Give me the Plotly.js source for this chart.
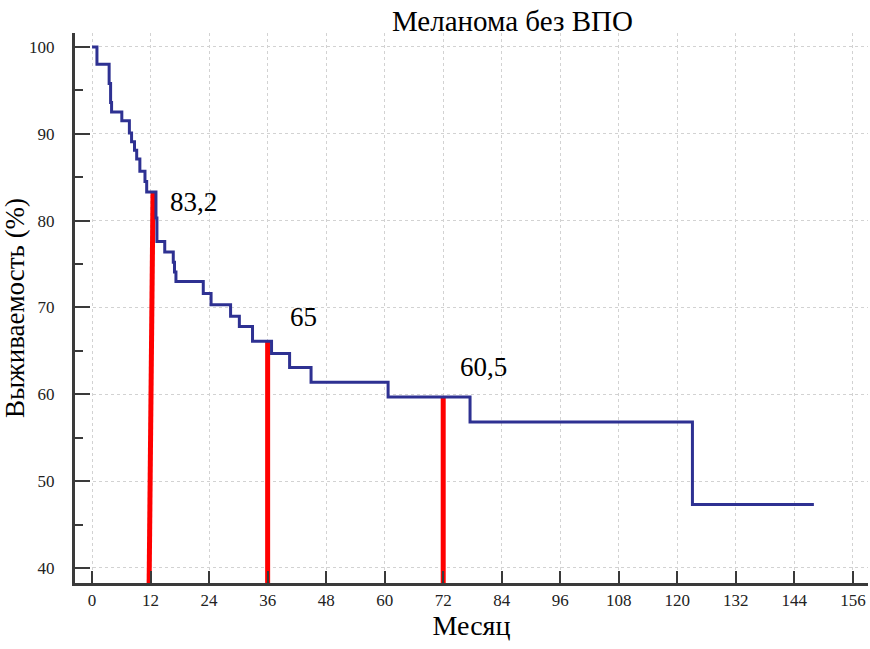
<!DOCTYPE html>
<html>
<head>
<meta charset="utf-8">
<script src="https://cdn.plot.ly/plotly-3.0.1.min.js"></script>
<style>html,body{margin:0;padding:0;background:#fff;}#chart{width:870px;height:649px;}</style>
</head>
<body>
<div id="chart"></div>
<script>
// Kaplan–Meier survival curve (months, %)
const months   = [0, 1.0, 3.5, 3.8, 4.0, 6.1, 7.65, 8.1, 8.7, 9.15, 9.8, 10.85, 11.2, 13.1, 13.3, 14.9, 16.65, 16.9, 17.2, 22.8, 24.4, 28.4, 30.2, 32.9, 36.8, 40.5, 44.9, 60.7, 77.5, 123.1, 148.0];
const survival = [100, 98.0, 95.8, 93.6, 92.5, 91.5, 90.1, 89.1, 88.1, 87.1, 85.7, 84.5, 83.3, 80.3, 77.6, 76.4, 75.2, 74.1, 73.0, 71.6, 70.3, 69.0, 67.8, 66.1, 64.7, 63.1, 61.4, 59.7, 56.8, 47.3, 47.3];

// Highlighted time points
const markBaseMonth = [11.7, 36, 72];
const markTopMonth  = [12.5, 36, 72];
const markValue     = [83.3, 66.1, 59.7];
const markLabels    = ['83,2', '65', '60,5'];
const labelMonth    = [15.6, 40.2, 75.0];
const labelValue    = [82.1, 68.9, 63.2];

const xTicks = [0, 12, 24, 36, 48, 60, 72, 84, 96, 108, 120, 132, 144, 156];
const yTicks = [40, 50, 60, 70, 80, 90, 100];

const yMin = 38.27, yMax = 101.61;
const axisColor = '#3a3a3a';
const serif = 'Liberation Serif, Times New Roman, serif';

const traces = [];
for (let i = 0; i < markValue.length; i++) {
  traces.push({
    x: [markBaseMonth[i], markTopMonth[i]],
    y: [yMin, markValue[i]],
    mode: 'lines',
    line: {color: '#ff0000', width: 5},
    hoverinfo: 'skip',
    showlegend: false
  });
}
traces.push({
  x: months,
  y: survival,
  mode: 'lines',
  line: {color: '#2e3192', width: 3, shape: 'hv'},
  showlegend: false
});

const annotations = markLabels.map((t, i) => ({
  x: labelMonth[i], y: labelValue[i], xref: 'x', yref: 'y',
  text: t, showarrow: false, xanchor: 'left', yanchor: 'middle',
  font: {family: serif, size: 27, color: '#000'}
}));

const layout = {
  width: 870, height: 649,
  margin: {l: 75, r: 2, t: 33, b: 66, pad: 0},
  paper_bgcolor: '#fff', plot_bgcolor: '#fff',
  showlegend: false,
  title: {
    text: 'Меланома без ВПО',
    font: {family: serif, size: 29, color: '#000'},
    xref: 'container', yref: 'container',
    x: 0.589, xanchor: 'center', y: 0.968, yanchor: 'middle'
  },
  xaxis: {
    range: [-3.5, 159.1],
    tickvals: xTicks,
    ticktext: xTicks.map(String),
    ticks: 'inside', ticklen: 12, tickwidth: 2, tickcolor: axisColor,
    showline: true, linecolor: axisColor, linewidth: 3,
    showgrid: true, gridcolor: '#d2d2d2', griddash: 'dot', gridwidth: 1,
    zeroline: false,
    tickfont: {family: serif, size: 17, color: '#222'},
    ticklabelstandoff: 0,
    title: {text: 'Месяц', font: {family: serif, size: 28, color: '#000'}, standoff: 6}
  },
  yaxis: {
    range: [yMin, yMax],
    tickvals: yTicks,
    ticktext: yTicks.map(String),
    ticks: 'inside', ticklen: 15, tickwidth: 2, tickcolor: axisColor,
    minor: {dtick: 5, tick0: 0, ticks: 'inside', ticklen: 8, tickwidth: 2, tickcolor: axisColor, showgrid: false},
    showline: true, linecolor: axisColor, linewidth: 3,
    showgrid: true, gridcolor: '#d2d2d2', griddash: 'dot', gridwidth: 1,
    zeroline: false,
    tickfont: {family: serif, size: 17, color: '#222'},
    ticklabelstandoff: 14,
    title: {text: 'Выживаемость (%)', font: {family: serif, size: 27, color: '#000'}, standoff: 0}
  },
  annotations: annotations
};

Plotly.newPlot('chart', traces, layout, {displayModeBar: false, staticPlot: true});
</script>
</body>
</html>
